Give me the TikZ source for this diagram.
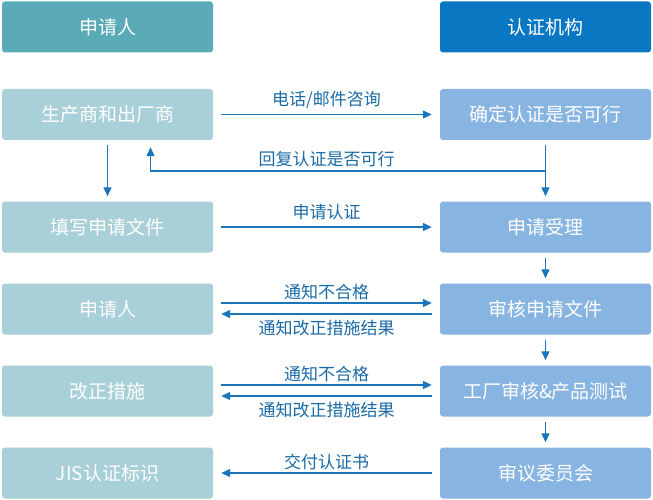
\documentclass[tikz,border=0pt]{standalone}
\usepackage{fontspec}
\usepackage{tikz}
\usetikzlibrary{arrows.meta}
\newfontfamily\cjk{Noto Sans CJK SC}

\definecolor{headl}{HTML}{5BAAB8}
\definecolor{headr}{HTML}{0A77C2}
\definecolor{boxl}{HTML}{A9D0D8}
\definecolor{boxr}{HTML}{87B4E0}
\definecolor{arrc}{HTML}{1B75BB}
\definecolor{lblc}{HTML}{1A6AA5}

\tikzset{
  box/.style={rounded corners=3pt, minimum width=211pt, minimum height=51pt,
    inner sep=0pt, text=white, font=\cjk\fontsize{19}{22}\selectfont},
  lbox/.style={box, fill=boxl},
  rbox/.style={box, fill=boxr},
  lbl/.style={text=lblc, inner sep=0pt, font=\cjk\fontsize{17}{20}\selectfont},
  arr/.style={draw=arrc, line width=1.3pt, -{Triangle[length=9pt,width=8pt]}},
  harr/.style={arr, shorten <=8pt, shorten >=8pt},
  varr/.style={arr, shorten <=5pt, shorten >=5pt}
}

\begin{document}
\begin{tikzpicture}[x=1pt,y=-1pt]
			\useasboundingbox (0,0) rectangle (653,500);
			\node (hl) [box, fill=headl] at (107.5,27) {申请人};
			\node (hr) [box, fill=headr] at (545.5,27) {认证机构};
			
			\node (l1) [lbox] at (107.5,114.5) {生产商和出厂商};
			\node (l2) [lbox] at (107.5,227) {填写申请文件};
			\node (l3) [lbox] at (107.5,309) {申请人};
			\node (l4) [lbox] at (107.5,391) {改正措施};
			\node (l5) [lbox] at (107.5,473) {JIS认证标识};
			
			\node (r1) [rbox] at (545.5,114.5) {确定认证是否可行};
			\node (r2) [rbox] at (545.5,227) {申请受理};
			\node (r3) [rbox] at (545.5,309) {审核申请文件};
			\node (r4) [rbox] at (545.5,391) {工厂审核\&产品测试};
			\node (r5) [rbox] at (545.5,473) {审议委员会};
			
			\node (t1) [lbl] at (326.5,100) {电话/邮件咨询};
			\node (t2) [lbl] at (326.5,159) {回复认证是否可行};
			\node (t3) [lbl] at (326.5,212) {申请认证};
			\node (t4) [lbl] at (326.5,292) {通知不合格};
			\node (t5) [lbl] at (326.5,328) {通知改正措施结果};
			\node (t6) [lbl] at (326.5,374) {通知不合格};
			\node (t7) [lbl] at (326.5,410) {通知改正措施结果};
			\node (t8) [lbl] at (326.5,462) {交付认证书};
			
			\coordinate (rb) at (545.5,171);
			
			\draw [harr] (l1.east) -- (r1.west);
			\draw [harr] (l2.east) -- (r2.west);
			\draw [harr] ([yshift=6pt]l3.east) -- ([yshift=6pt]r3.west);
			\draw [harr] ([yshift=-5pt]r3.west) -- ([yshift=-5pt]l3.east);
			\draw [harr] ([yshift=6pt]l4.east) -- ([yshift=6pt]r4.west);
			\draw [harr] ([yshift=-5pt]r4.west) -- ([yshift=-5pt]l4.east);
			\draw [harr] (r5.west) -- (l5.east);
			
			\draw [varr] (l1.south) -- (l2.north);
			\draw [varr] (r1.south) -- (r2.north);
			\draw [varr] (r2.south) -- (r3.north);
			\draw [varr] (r3.south) -- (r4.north);
			\draw [varr] (r4.south) -- (r5.north);
			\draw [arr, shorten >=7pt] (rb) -| ([xshift=43pt]l1.south);
\end{tikzpicture}
\end{document}
